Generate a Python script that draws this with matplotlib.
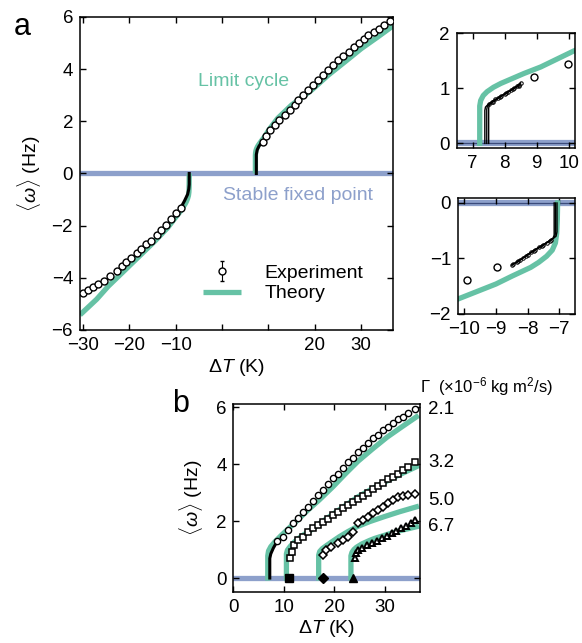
import matplotlib
matplotlib.use("Agg")
import matplotlib.pyplot as plt
from matplotlib.legend_handler import HandlerErrorbar

plt.rcParams['font.family'] = ['Liberation Sans', 'DejaVu Sans']
plt.rcParams['mathtext.fontset'] = 'custom'
plt.rcParams['mathtext.rm'] = 'Liberation Sans'
plt.rcParams['mathtext.it'] = 'Liberation Sans:italic'
plt.rcParams['mathtext.bf'] = 'Liberation Sans:bold'

GREEN = "#66c2a5"
BLUE = "#8da0cb"

# ---- panel a: full sweep -------------------------------------------------
# experiment, sparse markers (K, Hz)
neg_exp_T = [-29.9, -28.8, -27.7, -26.7, -25.4, -24.1, -22.7, -21.6, -20.6, -19.5,
             -18.4, -17.4, -16.3, -15.2, -14.1, -13.1, -12.0, -10.9, -9.8, -8.9]
neg_exp_w = [-4.57, -4.48, -4.36, -4.25, -4.12, -3.93, -3.72, -3.55, -3.40, -3.23,
             -3.04, -2.91, -2.72, -2.57, -2.36, -2.18, -1.98, -1.76, -1.51, -1.32]
pos_exp_T = [8.8, 9.5, 10.4, 11.5, 12.4, 13.5, 14.6, 15.7, 16.4, 17.5, 18.6, 19.7, 20.7,
             21.8, 22.9, 24.0, 25.1, 26.2, 27.3, 28.4, 29.5, 30.6, 31.6, 32.7, 33.8,
             34.9, 36.2]
pos_exp_w = [1.21, 1.43, 1.66, 1.85, 2.04, 2.23, 2.42, 2.61, 2.80, 3.00, 3.19, 3.38, 3.58,
             3.77, 3.96, 4.15, 4.34, 4.49, 4.66, 4.85, 5.02, 5.17, 5.30, 5.42, 5.55,
             5.68, 5.85]
exp_err = 0.06

# experiment, dense sweep near the onsets
neg_sweep_T = [-8.9, -8.1, -7.4, -7.15, -7.05, -7.05]
neg_sweep_w = [-1.32, -1.06, -0.80, -0.60, -0.42, 0.0]
pos_sweep_T = [7.42, 7.42, 7.6, 8.0, 8.5, 8.8]
pos_sweep_w = [0.0, 0.72, 0.90, 1.05, 1.18, 1.21]

# theory
neg_th_T = [-30.6, -27.0, -24.5, -21.0, -17.4, -14.5, -11.7, -10.2, -9.0, -8.5, -7.9,
            -7.65, -7.4, -7.22, -7.12, -7.08, -7.06, -7.05]
neg_th_w = [-5.42, -4.82, -4.32, -3.72, -3.10, -2.60, -2.08, -1.73, -1.46, -1.32, -1.16,
            -1.07, -0.96, -0.85, -0.72, -0.55, -0.30, 0.0]
pos_th_T = [7.22, 7.22, 7.25, 7.33, 7.45, 7.65, 7.88, 8.6, 9.13, 10.16, 12.0, 15.0, 19.3,
            23.0, 26.6, 30.0, 33.5, 36.9]
pos_th_w = [0.0, 0.68, 0.78, 0.87, 0.94, 1.02, 1.09, 1.27, 1.39, 1.68, 2.11, 2.62, 3.19,
            3.78, 4.29, 4.78, 5.22, 5.66]

# insets: individual sweeps around each onset
up_runs_T = [[7.38, 7.38, 7.40, 7.50, 7.70, 7.90, 8.10, 8.30, 8.45],
             [7.44, 7.44, 7.46, 7.60, 7.80, 8.00, 8.20, 8.40, 8.50],
             [7.50, 7.50, 7.52, 7.65, 7.85, 8.05, 8.25, 8.45]]
up_runs_w = [[0.0, 0.60, 0.66, 0.72, 0.80, 0.86, 0.93, 1.00, 1.05],
             [0.0, 0.62, 0.68, 0.75, 0.82, 0.90, 0.97, 1.04, 1.10],
             [0.0, 0.64, 0.70, 0.76, 0.85, 0.92, 0.99, 1.07]]
up_pts_T = [8.93, 9.97]
up_pts_w = [1.21, 1.45]

down_runs_T = [[-7.07, -7.07, -7.10, -7.25, -7.50, -7.75, -8.00, -8.25, -8.50],
               [-7.12, -7.12, -7.15, -7.30, -7.55, -7.80, -8.05, -8.30, -8.45],
               [-7.16, -7.16, -7.20, -7.40, -7.65, -7.90, -8.15, -8.35]]
down_runs_w = [[0.0, -0.52, -0.60, -0.66, -0.75, -0.84, -0.93, -1.03, -1.12],
               [0.0, -0.55, -0.62, -0.68, -0.78, -0.86, -0.96, -1.05, -1.10],
               [0.0, -0.58, -0.64, -0.72, -0.80, -0.89, -0.99, -1.07]]
down_pts_T = [-9.93, -8.97]
down_pts_w = [-1.39, -1.16]

# ---- panel b: damping series -------------------------------------------
gamma_labels = ["2.1", "3.2", "5.0", "6.7"]
gamma_label_w = [5.93, 4.04, 2.71, 1.80]

g21_T = [8.7, 9.8, 10.8, 11.8, 12.8, 13.8, 14.8, 15.8, 16.8, 17.8, 18.8, 19.7, 20.7, 21.7,
         22.7, 23.7, 24.7, 25.7, 26.7, 27.7, 28.7, 29.7, 30.7, 31.7, 32.7, 33.7, 34.7, 36.0]
g21_w = [1.30, 1.45, 1.68, 1.92, 2.12, 2.33, 2.50, 2.70, 2.91, 3.09, 3.29, 3.50, 3.67, 3.87,
         4.08, 4.22, 4.41, 4.57, 4.73, 4.90, 5.04, 5.19, 5.31, 5.45, 5.58, 5.66, 5.78, 5.93]
g21_sweep_T = [7.2, 7.2, 7.4, 7.9, 8.7]
g21_sweep_w = [0.0, 0.69, 0.85, 1.05, 1.30]
g21_th_T = [6.8, 6.8, 6.95, 7.4, 8.2, 9.5, 11.0, 12.8, 14.8, 17.0, 19.7, 22.2, 24.7, 27.5,
            30.5, 33.5, 36.3]
g21_th_w = [0.0, 0.78, 0.95, 1.10, 1.27, 1.50, 1.75, 2.05, 2.39, 2.74, 3.20, 3.66, 4.10,
            4.52, 4.95, 5.32, 5.66]

g32_T = [11.3, 11.7, 12.1, 12.8, 13.8, 14.8, 15.8, 16.8, 17.8, 18.8, 19.7, 20.7, 21.7, 22.7,
         23.7, 24.7, 25.7, 26.7, 27.7, 28.7, 29.7, 30.7, 31.7, 32.7, 33.7, 34.7, 36.0]
g32_w = [0.69, 0.92, 1.16, 1.33, 1.45, 1.62, 1.74, 1.86, 1.98, 2.09, 2.21, 2.33, 2.45, 2.56,
         2.66, 2.76, 2.88, 2.99, 3.11, 3.23, 3.34, 3.46, 3.55, 3.67, 3.79, 3.91, 4.08]
g32_th_T = [10.5, 10.5, 10.7, 11.2, 12.1, 13.5, 15.0, 18.1, 21.5, 24.7, 28.0, 32.0, 36.3]
g32_th_w = [0.0, 0.85, 0.98, 1.10, 1.27, 1.47, 1.64, 2.04, 2.46, 2.85, 3.18, 3.55, 3.91]

g50_T = [17.8, 18.4, 19.4, 20.7, 21.7, 22.7, 23.7, 24.7, 25.7, 26.7, 27.7, 28.7, 29.7, 30.7,
         31.7, 32.7, 33.7, 34.7, 36.0]
g50_w = [0.81, 0.98, 1.10, 1.22, 1.33, 1.45, 1.62, 1.92, 2.04, 2.15, 2.27, 2.39, 2.50, 2.62,
         2.74, 2.85, 2.88, 2.91, 2.95]
g50_th_T = [16.9, 16.9, 17.1, 17.6, 18.3, 19.5, 21.0, 22.7, 24.5, 27.0, 30.0, 33.0, 36.3]
g50_th_w = [0.0, 0.80, 0.93, 1.03, 1.12, 1.27, 1.45, 1.63, 1.80, 1.98, 2.16, 2.33, 2.50]

g67_T = [24.1, 24.4, 24.7, 25.4, 26.4, 27.4, 28.4, 29.4, 30.4, 31.4, 32.3, 33.3, 34.3,
         35.3, 36.1]
g67_w = [0.69, 0.87, 0.98, 1.06, 1.16, 1.24, 1.31, 1.39, 1.48, 1.57, 1.65, 1.74, 1.82,
         1.92, 2.04]
g67_th_T = [23.3, 23.3, 23.5, 23.9, 24.4, 25.5, 27.0, 28.0, 30.5, 33.0, 36.3]
g67_th_w = [0.0, 0.78, 0.90, 1.00, 1.08, 1.20, 1.32, 1.39, 1.53, 1.66, 1.80]

# stable fixed point (omega = 0) measured just below each onset
onset_T = [11.1, 17.8, 23.7]
onset_marker = ["s", "D", "^"]


def style(ax):
    ax.tick_params(direction="in", top=True, right=True, length=4, width=1,
                   labelsize=13.5, pad=5)
    for s in ax.spines.values():
        s.set_linewidth(1.1)


fig = plt.figure(figsize=(5.82, 6.43), dpi=100)

# main panel a
ax = fig.add_axes([0.1375, 0.4868, 0.5378, 0.4868])
ax.axhline(0, color=BLUE, lw=3.8, zorder=1)
ax.plot(neg_th_T, neg_th_w, color=GREEN, lw=3.8, solid_capstyle="butt", zorder=2)
th_line, = ax.plot(pos_th_T, pos_th_w, color=GREEN, lw=3.8, solid_capstyle="butt", zorder=2)
ax.plot(neg_sweep_T, neg_sweep_w, color="black", lw=2.2, zorder=3)
ax.plot(pos_sweep_T, pos_sweep_w, color="black", lw=2.2, zorder=3)
exp_eb = ax.errorbar(neg_exp_T, neg_exp_w, yerr=exp_err, fmt="o", ms=5, mfc="white",
                     mec="black", mew=1, ecolor="black", elinewidth=0.8, capsize=1.2,
                     zorder=4)
ax.errorbar(pos_exp_T, pos_exp_w, yerr=exp_err, fmt="o", ms=5, mfc="white",
            mec="black", mew=1, ecolor="black", elinewidth=0.8, capsize=1.2, zorder=4)
ax.set_xlim(-30.6, 36.9)
ax.set_ylim(-6, 6)
ax.set_xticks([-30, -20, -10, 0, 10, 20, 30])
ax.set_xticklabels(["\u221230", "\u221220", "\u221210", "", "", "20", "30"])
ax.set_yticks([-6, -4, -2, 0, 2, 4, 6])
style(ax)
ax.set_xlabel(r"$\Delta\mathit{T}$ (K)", fontsize=14, labelpad=2)
ax.set_ylabel(r"$\langle\mathit{\omega}\rangle$ (Hz)", fontsize=14, labelpad=6)
ax.text(-5.1, 3.37, "Limit cycle", color=GREEN, fontsize=14, va="baseline")
ax.text(0.3, -1.0, "Stable fixed point", color=BLUE, fontsize=14, va="baseline")
ax.legend([exp_eb, th_line], ["Experiment", "Theory"], loc="center left",
          bbox_to_anchor=(0.393, 0.149), frameon=False, fontsize=14,
          handlelength=1.95, handletextpad=1.2, labelspacing=0.15, borderpad=0,
          borderaxespad=0, handler_map={type(exp_eb): HandlerErrorbar(yerr_size=0.5)})
fig.text(0.0387, 0.958, "a", fontsize=22, ha="center", va="center")

# inset: onset of the limit cycle
ai = fig.add_axes([0.7847, 0.7693, 0.2033, 0.1788])
ai.axhline(0, color=BLUE, lw=4.5, zorder=1)
ai.axhline(0, color="#3b4b7b", lw=0.9, zorder=1)
ai.plot(pos_th_T, pos_th_w, color=GREEN, lw=3.8, zorder=2)
for rt, rw in zip(up_runs_T, up_runs_w):
    ai.plot(rt, rw, color="black", lw=1.0, zorder=3)
    ai.plot(rt[3:], rw[3:], "o", ms=2.5, mfc="none", mec="black", mew=0.7, zorder=3)
ai.errorbar(up_pts_T, up_pts_w, yerr=0.03, fmt="o", ms=5, mfc="white", mec="black",
            mew=1, ecolor="black", elinewidth=0.8, capsize=2, zorder=4)
ai.set_xlim(6.5, 10.2)
ai.set_ylim(-0.09, 2.0)
ai.set_xticks([7, 8, 9, 10])
ai.set_yticks([0, 1, 2])
style(ai)

# inset: collapse back to the fixed point
bi = fig.add_axes([0.787, 0.5117, 0.201, 0.1804])
bi.axhline(0, color=BLUE, lw=4.5, zorder=1)
bi.axhline(0, color="#3b4b7b", lw=0.9, zorder=1)
bi.plot(neg_th_T, neg_th_w, color=GREEN, lw=3.8, zorder=2)
for rt, rw in zip(down_runs_T, down_runs_w):
    bi.plot(rt, rw, color="black", lw=1.0, zorder=3)
    bi.plot(rt[3:], rw[3:], "o", ms=2.5, mfc="none", mec="black", mew=0.7, zorder=3)
bi.errorbar(down_pts_T, down_pts_w, yerr=0.03, fmt="o", ms=5, mfc="white", mec="black",
            mew=1, ecolor="black", elinewidth=0.8, capsize=2, zorder=4)
bi.set_xlim(-10.2, -6.5)
bi.set_ylim(-2.0, 0.09)
bi.set_xticks([-10, -9, -8, -7])
bi.set_yticks([-2, -1, 0])
style(bi)

# panel b
bx = fig.add_axes([0.4012, 0.0798, 0.3204, 0.2914])
bx.axhline(0, color=BLUE, lw=3.8, zorder=1)
for tT, tw in [(g21_th_T, g21_th_w), (g32_th_T, g32_th_w),
               (g50_th_T, g50_th_w), (g67_th_T, g67_th_w)]:
    bx.plot(tT, tw, color=GREEN, lw=3.8, zorder=2)
bx.plot(g21_sweep_T, g21_sweep_w, color="black", lw=2.2, zorder=3)
bx.errorbar(g21_T, g21_w, yerr=0.04, fmt="o", ms=4.5, mfc="white", mec="black", mew=1,
            ecolor="black", elinewidth=0.8, capsize=1.0, zorder=4)
bx.plot(g32_T, g32_w, "s", ms=4.5, mfc="white", mec="black", mew=1.1, zorder=4)
bx.plot(g50_T, g50_w, "D", ms=4.3, mfc="white", mec="black", mew=1.1, zorder=4)
bx.plot(g67_T, g67_w, "^", ms=4.5, mfc="white", mec="black", mew=1.4, zorder=4)
for t0, mk in zip(onset_T, onset_marker):
    bx.plot([t0], [0], mk, ms=5.5, color="black", zorder=5)
bx.set_xlim(0, 37)
bx.set_ylim(-0.48, 6.1)
bx.set_xticks([0, 10, 20, 30])
bx.set_yticks([0, 2, 4, 6])
style(bx)
bx.set_xlabel(r"$\Delta\mathit{T}$ (K)", fontsize=14, labelpad=2)
bx.set_ylabel(r"$\langle\mathit{\omega}\rangle$ (Hz)", fontsize=14, labelpad=8)
for lab, w in zip(gamma_labels, gamma_label_w):
    bx.text(38.6, w, lab, fontsize=13.5, va="center", ha="left", clip_on=False)
bx.text(37.0, 6.71, "$\\mathit{\\Gamma}$  (\u00d710$^{-6}$ kg m$^{2}$/s)", fontsize=12,
        va="center", ha="left", clip_on=False)
fig.text(0.311, 0.372, "b", fontsize=22, ha="center", va="center")

fig.savefig("out.png", dpi=100)
